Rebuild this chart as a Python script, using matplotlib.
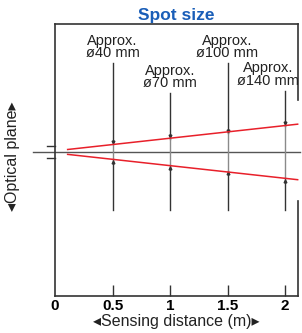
import matplotlib.pyplot as plt
import numpy as np

# spot size chart data
spot_dist = [0.5, 1.0, 1.5, 2.0]          # m
spot_diam = [40, 70, 100, 140]            # mm
spot_labels = ["Approx.\nø40 mm", "Approx.\nø70 mm", "Approx.\nø100 mm", "Approx.\nø140 mm"]
label_x = [0.5, 1.0, 1.5, 1.85]
marker_top = [237, 157, 237, 163]         # top of each marker line (mm, drawing units)
marker_bottom = -155

beam_x = [0.11, 2.11]
beam_diam = [13, 148]

xticks = [0, 0.5, 1, 1.5, 2]
xtick_labels = ["0", "0.5", "1", "1.5", "2"]

plt.rcParams['font.family'] = ['Liberation Sans', 'DejaVu Sans']
dark = "#333333"

fig = plt.figure(figsize=(3.02, 3.33), dpi=100)
ax = fig.add_axes([55/302, 37/333, 243/302, 272/333])
ax.set_xlim(0, 2.113)
ax.set_ylim(-384, 341)

# optical axis
ax.plot([-0.19, 2.13], [0, 0], color="#555555", lw=1.0, clip_on=False, zorder=2)
# small bracket at the lens
ax.plot([-0.07, 0], [16, 16], color=dark, lw=1.0, clip_on=False)
ax.plot([-0.07, 0], [-16, -16], color=dark, lw=1.0, clip_on=False)

# beam edges
bx = np.array(beam_x)
bd = np.array(beam_diam)
ax.plot(bx, bd / 2, color="#e8202a", lw=1.1, zorder=4, clip_on=False)
ax.plot(bx, -bd / 2, color="#e8202a", lw=1.1, zorder=4, clip_on=False)

for x, d, top, lab, lx in zip(spot_dist, spot_diam, marker_top, spot_labels, label_x):
    h = d / 2
    ax.plot([x, x], [h, top], color=dark, lw=1.0, zorder=3)
    ax.plot([x, x], [marker_bottom, -h], color=dark, lw=1.0, zorder=3)
    ax.plot([x, x], [-h, h], color="#8a8a8a", lw=1.0, zorder=3)
    ax.plot([x], [h + 7], marker="v", ms=2, color=dark, zorder=3)
    ax.plot([x], [-h - 7], marker="^", ms=2, color=dark, zorder=3)
    ax.text(lx, top + 8, lab, ha="center", va="bottom", fontsize=10.5,
            linespacing=0.85, color="#222222")

# spines
for s in ["left", "top", "bottom"]:
    ax.spines[s].set_color(dark)
    ax.spines[s].set_linewidth(1.2)
ax.spines["right"].set_visible(False)
ax.plot([2.113, 2.113], [341, 139], color=dark, lw=1.2, clip_on=False)
ax.plot([2.113, 2.113], [-131, -384], color=dark, lw=1.2, clip_on=False)

ax.set_yticks([])
ax.set_xticks(xticks)
ax.set_xticklabels(xtick_labels, fontweight="bold", fontsize=11)
ax.tick_params(axis="x", direction="in", length=8, width=1.0, color=dark, pad=2)
ax.xaxis.get_major_ticks()[0].tick1line.set_visible(False)

ax.set_xlabel("◂Sensing distance (m)▸", fontsize=11.5, labelpad=1, color="#222222")
ax.set_ylabel("◂Optical plane▸", fontsize=11.5, color="#222222")
ax.yaxis.set_label_coords(-0.144, 0.515)
ax.set_title("Spot size", fontsize=12.5, fontweight="bold", color="#1a5eb8", pad=3)

fig.savefig("out.png", dpi=100)
